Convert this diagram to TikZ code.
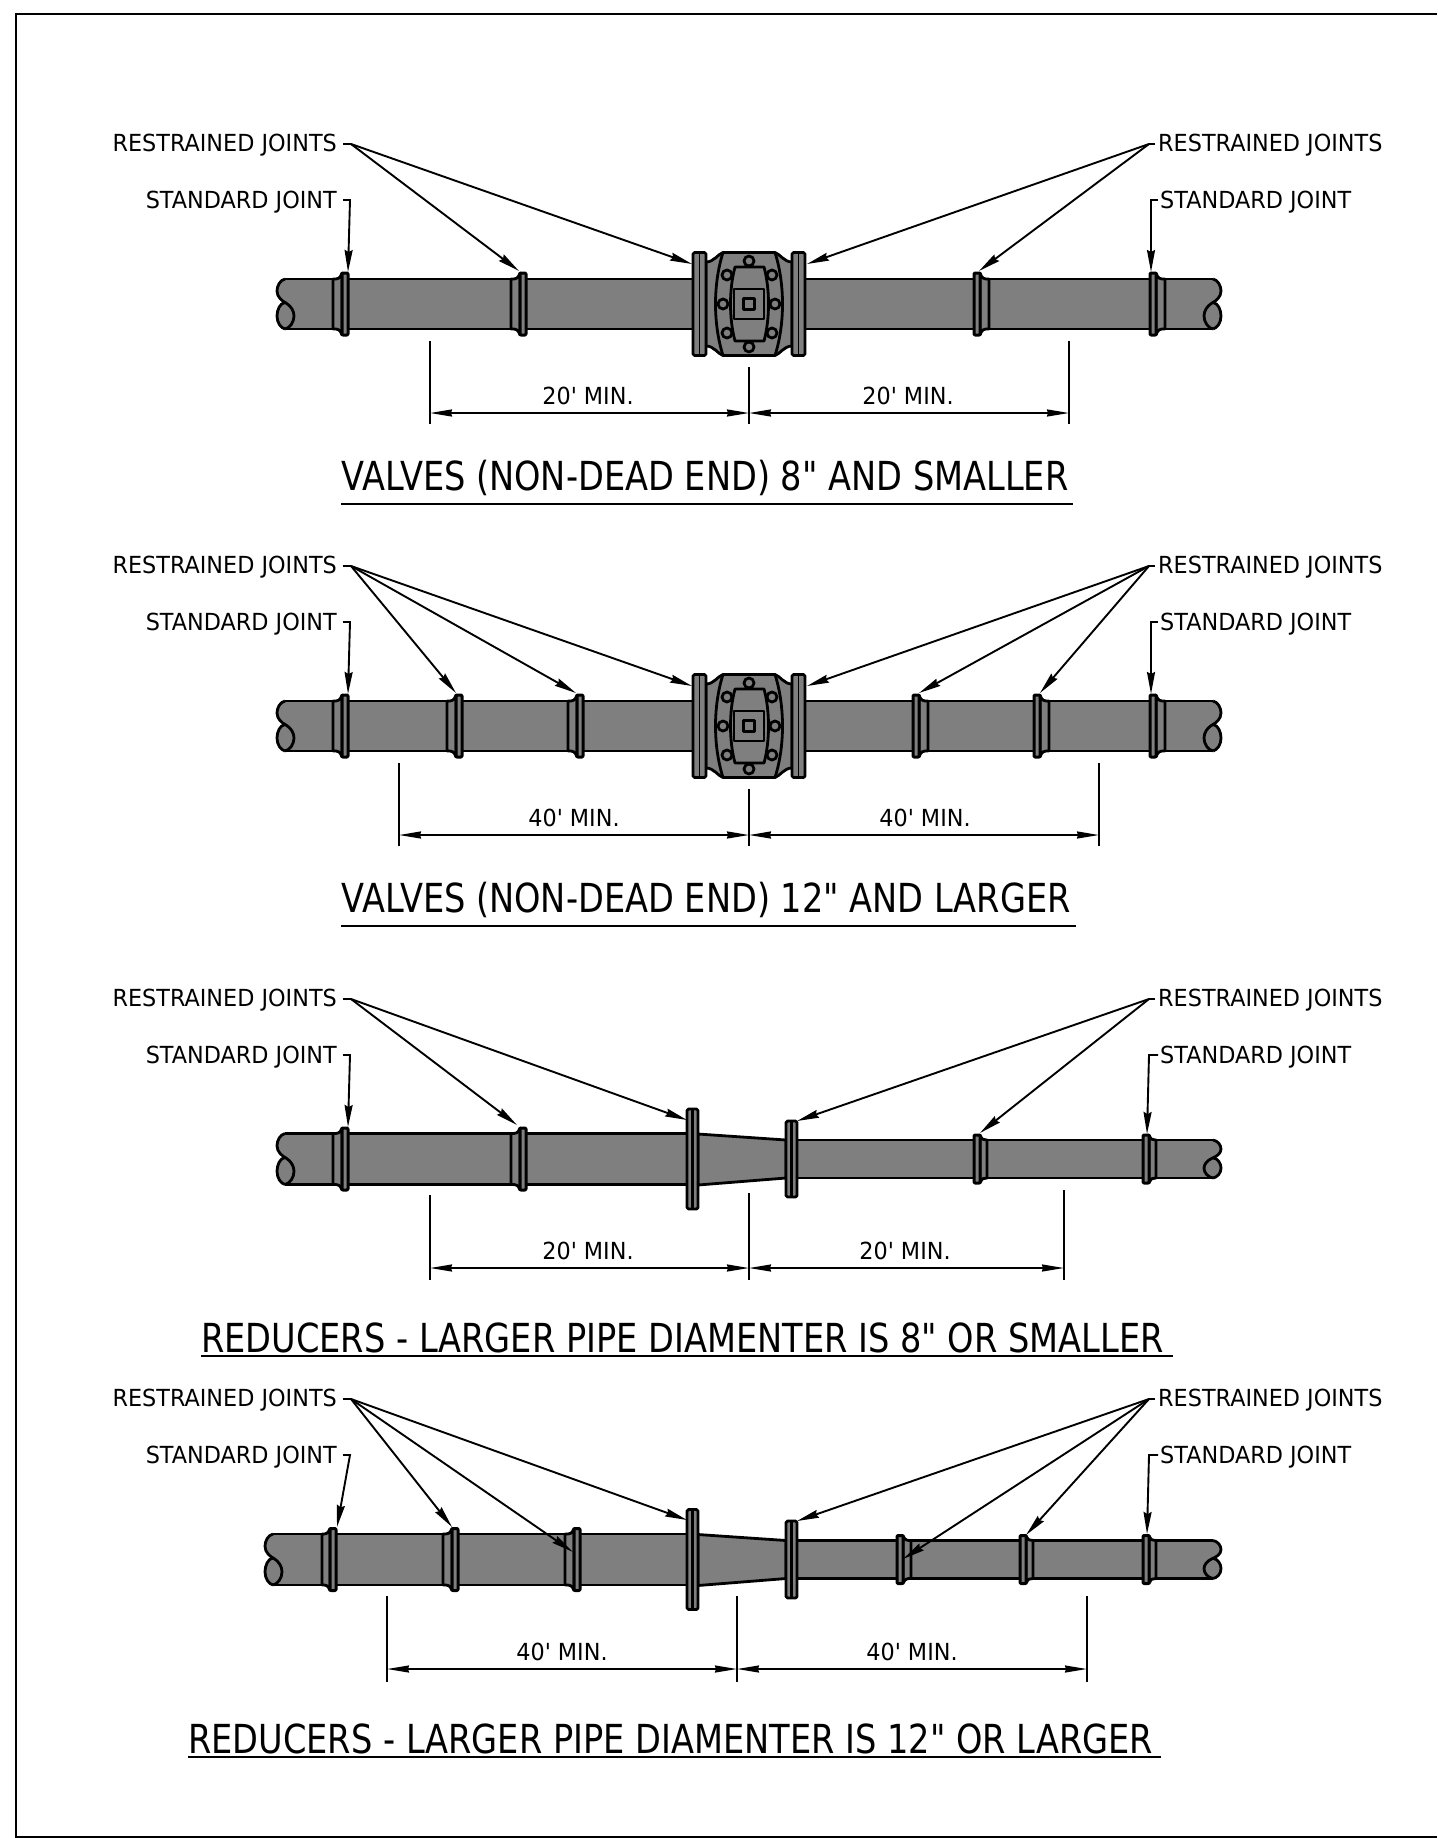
\documentclass[tikz,border=0pt]{standalone}
\usepackage{fontspec}
\usetikzlibrary{arrows.meta}
\newfontfamily\labelfam[FakeStretch=0.95]{DejaVu Sans}
\newfontfamily\titlefam[FakeStretch=0.84]{DejaVu Sans}
\newcommand{\labelfont}{\labelfam\fontsize{23.5}{25}\selectfont}
\newcommand{\titlefont}{\titlefam\fontsize{40}{42}\selectfont}
\definecolor{pipegray}{RGB}{127,127,127}
\tikzset{
  heavy/.style={black,line width=2.8pt,line join=round},
  lbl/.style={font=\labelfont,inner sep=0pt},
  ttl/.style={font=\titlefont,inner sep=0pt,anchor=west},
  leader/.style={black,line width=1.9pt,-{Stealth[length=22pt,width=8pt,inset=2pt]}},
  tick/.style={black,line width=1.9pt},
  dimline/.style={black,line width=1.7pt,{Stealth[length=22pt,width=7pt,inset=1pt]}-{Stealth[length=22pt,width=7pt,inset=1pt]}},
  extline/.style={black,line width=1.7pt},
  pics/pipebar/.style 2 args={code={
    \fill [pipegray] (0,-#2) rectangle (#1,#2);
    \draw [heavy] (0,-#2) -- (#1,-#2);
    \draw [heavy] (0,#2) -- (#1,#2);
  }},
  pics/breakend/.style={code={
    \fill [pipegray] (0,-25) .. controls (-5,-24) and (-8,-18) .. (-8,-13) .. controls (-8,-7) and (-4,-3) .. (0,-1.5) .. controls (-5,-1) and (-8,6) .. (-8,12) .. controls (-8,19) and (-4,24) .. (0,25) -- cycle;
    \draw [heavy] (0,-25) .. controls (-5,-24) and (-8,-18) .. (-8,-13) .. controls (-8,-7) and (-3,-3) .. (1,-1) .. controls (6,2) and (9,7) .. (9,12) .. controls (9,18) and (5,24) .. (0,25);
    \draw [heavy] (0,-1.5) .. controls (-5,-1) and (-8,6) .. (-8,12) .. controls (-8,19) and (-4,24) .. (0,25);
  }},
  pics/bell/.style n args={3}{code={
    \filldraw [heavy,fill=pipegray] (-#3,-#1) .. controls (-7,-#1) and (-5,-#1) .. (-3,-#2) -- (-3,#2) .. controls (-5,#1) and (-7,#1) .. (-#3,#1) -- cycle;
    \filldraw [heavy,line width=3pt,fill=pipegray,rounded corners=1pt] (-3,-#2) rectangle (3,#2);
  }},
  pics/blockflange/.style={code={
    \filldraw [heavy,fill=pipegray,rounded corners=1.5pt] (-5.5,-#1) rectangle (5.5,#1);
    \draw [black,line width=2.4pt] (0,-#1) -- (0,#1);
  }},
  pics/valve/.style={code={
    \filldraw [heavy,fill=pipegray] (-43,-42) .. controls (-35,-42) and (-31,-50) .. (-26,-51.5) -- (26,-51.5) .. controls (31,-50) and (35,-42) .. (43,-42) -- (43,42) .. controls (35,42) and (31,50) .. (26,51.5) -- (-26,51.5) .. controls (-31,50) and (-35,42) .. (-43,42) -- cycle;
    \draw [heavy] (-26,-51.5) .. controls (-36,-20) and (-36,20) .. (-26,51.5);
    \draw [heavy] (26,-51.5) .. controls (36,-20) and (36,20) .. (26,51.5);
    \draw [heavy,fill=pipegray] (0,-43) circle (5);
    \draw [heavy,fill=pipegray] (0,43) circle (5);
    \draw [heavy,fill=pipegray] (-26,0) circle (5);
    \draw [heavy,fill=pipegray] (26,0) circle (5);
    \draw [heavy,fill=pipegray] (-22,-29) circle (5);
    \draw [heavy,fill=pipegray] (23,-29) circle (5);
    \draw [heavy,fill=pipegray] (-22,29) circle (5);
    \draw [heavy,fill=pipegray] (23,29) circle (5);
    \draw [heavy] (-14,-37) -- (15,-37) .. controls (21,-15) and (21,15) .. (15,37) -- (-14,37) .. controls (-20,15) and (-20,-15) .. (-14,-37) -- cycle;
    \draw [heavy] (-15,-15) rectangle (15,15);
    \draw [heavy] (-5.5,-5.5) rectangle (5.5,5.5);
    \filldraw [heavy,fill=pipegray,rounded corners=1.5pt] (-56,-51.5) rectangle (-43,51.5);
    \draw [black,line width=1.6pt] (-49.5,-51.5) -- (-49.5,51.5);
    \filldraw [heavy,fill=pipegray,rounded corners=1.5pt] (43,-51.5) rectangle (56,51.5);
    \draw [black,line width=1.6pt] (49.5,-51.5) -- (49.5,51.5);
  }}
}
\begin{document}
\begin{tikzpicture}[x=1pt,y=-1pt]
\useasboundingbox (0,0) rectangle (1437,1838);
\draw [black,line width=2.4pt] (1437,14) -- (16,14) -- (16,1837) -- (1437,1837);
% first row
\pic at (285,304) {pipebar={928}{25}};
\pic at (285,304) {breakend};
\pic [xscale=-1] at (1213,304) {breakend};
\pic at (345,304) {bell={25}{31}{12}};
\pic at (523,304) {bell={25}{31}{12}};
\pic [xscale=-1] at (977,304) {bell={25}{31}{12}};
\pic [xscale=-1] at (1153,304) {bell={25}{31}{12}};
\pic at (749,304) {valve};
\node [lbl,anchor=east] (rjlefta) at (337,145) {RESTRAINED JOINTS};
\node [lbl,anchor=west] (rjrighta) at (1158,145) {RESTRAINED JOINTS};
\node [lbl,anchor=east] (sjlefta) at (337,202) {STANDARD JOINT};
\node [lbl,anchor=west] (sjrighta) at (1160,202) {STANDARD JOINT};
\coordinate (forklefta) at (351,144);
\coordinate (forkrighta) at (1149,144);
\coordinate (hooklefta) at (350,200);
\coordinate (hookrighta) at (1151,200);
\coordinate (tipa1) at (348,272);
\coordinate (tipa2) at (519,271);
\coordinate (tipa3) at (692,264);
\coordinate (tipa4) at (807,264);
\coordinate (tipa5) at (979,271);
\coordinate (tipa6) at (1151,272);
\draw [tick] ([xshift=6pt,yshift=1pt]rjlefta.east) -- (forklefta);
\draw [tick] ([xshift=-3pt,yshift=1pt]rjrighta.west) -- (forkrighta);
\draw [leader] (forklefta) -- (tipa2);
\draw [leader] (forklefta) -- (tipa3);
\draw [leader] (forkrighta) -- (tipa4);
\draw [leader] (forkrighta) -- (tipa5);
\draw [leader] ([xshift=6pt,yshift=2pt]sjlefta.east) -- (hooklefta) -- (tipa1);
\draw [leader] ([xshift=-2pt,yshift=2pt]sjrighta.west) -- (hookrighta) -- (tipa6);
\coordinate (dima1) at (430,413);
\coordinate (dima2) at (749,413);
\coordinate (dima3) at (1069,413);
\draw [dimline] (dima1) -- (dima2);
\draw [dimline] (dima2) -- (dima3);
\draw [extline] (430,341) -- (430,424);
\draw [extline] (749,367) -- (749,424);
\draw [extline] (1069,341) -- (1069,424);
\node [lbl] (dimtxta1) at (588,396) {20' MIN.};
\node [lbl] (dimtxta2) at (908,396) {20' MIN.};
\node [ttl] (ttla) at (341,478) {VALVES (NON-DEAD END) 8" AND SMALLER};
\draw [tick] (341,504) -- (1073,504);
% second row
\pic at (285,726) {pipebar={928}{25}};
\pic at (285,726) {breakend};
\pic [xscale=-1] at (1213,726) {breakend};
\pic at (345,726) {bell={25}{31}{12}};
\pic at (459,726) {bell={25}{31}{12}};
\pic at (580,726) {bell={25}{31}{12}};
\pic [xscale=-1] at (916,726) {bell={25}{31}{12}};
\pic [xscale=-1] at (1037,726) {bell={25}{31}{12}};
\pic [xscale=-1] at (1153,726) {bell={25}{31}{12}};
\pic at (749,726) {valve};
\node [lbl,anchor=east] (rjleftb) at (337,567) {RESTRAINED JOINTS};
\node [lbl,anchor=west] (rjrightb) at (1158,567) {RESTRAINED JOINTS};
\node [lbl,anchor=east] (sjleftb) at (337,624) {STANDARD JOINT};
\node [lbl,anchor=west] (sjrightb) at (1160,624) {STANDARD JOINT};
\coordinate (forkleftb) at (351,566);
\coordinate (forkrightb) at (1149,566);
\coordinate (hookleftb) at (350,622);
\coordinate (hookrightb) at (1151,622);
\coordinate (tipb1) at (348,694);
\coordinate (tipb2) at (456,693);
\coordinate (tipb3) at (576,693);
\coordinate (tipb4) at (692,686);
\coordinate (tipb5) at (807,686);
\coordinate (tipb6) at (919,693);
\coordinate (tipb7) at (1040,693);
\coordinate (tipb8) at (1151,694);
\draw [tick] ([xshift=6pt,yshift=1pt]rjleftb.east) -- (forkleftb);
\draw [tick] ([xshift=-3pt,yshift=1pt]rjrightb.west) -- (forkrightb);
\draw [leader] (forkleftb) -- (tipb2);
\draw [leader] (forkleftb) -- (tipb3);
\draw [leader] (forkleftb) -- (tipb4);
\draw [leader] (forkrightb) -- (tipb5);
\draw [leader] (forkrightb) -- (tipb6);
\draw [leader] (forkrightb) -- (tipb7);
\draw [leader] ([xshift=6pt,yshift=2pt]sjleftb.east) -- (hookleftb) -- (tipb1);
\draw [leader] ([xshift=-2pt,yshift=2pt]sjrightb.west) -- (hookrightb) -- (tipb8);
\coordinate (dimb1) at (399,835);
\coordinate (dimb2) at (749,835);
\coordinate (dimb3) at (1099,835);
\draw [dimline] (dimb1) -- (dimb2);
\draw [dimline] (dimb2) -- (dimb3);
\draw [extline] (399,763) -- (399,846);
\draw [extline] (749,789) -- (749,846);
\draw [extline] (1099,763) -- (1099,846);
\node [lbl] (dimtxtb1) at (574,818) {40' MIN.};
\node [lbl] (dimtxtb2) at (925,818) {40' MIN.};
\node [ttl] (ttlb) at (341,900) {VALVES (NON-DEAD END) 12" AND LARGER};
\draw [tick] (341,926) -- (1076,926);
% third row
\pic at (285,1159) {pipebar={402}{25.5}};
\pic [yscale=1.02] at (285,1159) {breakend};
\pic at (797,1159) {pipebar={416}{19}};
\pic [xscale=-1,yscale=0.76] at (1213,1159) {breakend};
\filldraw [heavy,fill=pipegray] (698,1134) -- (786,1140) -- (786,1178) -- (698,1185) -- cycle;
\pic at (345,1159) {bell={25.5}{31}{12}};
\pic at (523,1159) {bell={25.5}{31}{12}};
\pic [xscale=-1] at (977,1159) {bell={19}{24}{10}};
\pic [xscale=-1] at (1146,1159) {bell={19}{24}{10}};
\pic at (692.5,1159) {blockflange=50};
\pic at (791.5,1159) {blockflange=38};
\node [lbl,anchor=east] (rjleftc) at (337,1000) {RESTRAINED JOINTS};
\node [lbl,anchor=west] (rjrightc) at (1158,1000) {RESTRAINED JOINTS};
\node [lbl,anchor=east] (sjleftc) at (337,1057) {STANDARD JOINT};
\node [lbl,anchor=west] (sjrightc) at (1160,1057) {STANDARD JOINT};
\coordinate (forkleftc) at (351,999);
\coordinate (forkrightc) at (1149,999);
\coordinate (hookleftc) at (350,1055);
\coordinate (hookrightc) at (1149,1055);
\coordinate (tipc1) at (348,1127);
\coordinate (tipc2) at (517,1125);
\coordinate (tipc3) at (687,1120);
\coordinate (tipc4) at (797,1121);
\coordinate (tipc5) at (980,1133);
\coordinate (tipc6) at (1147,1134);
\draw [tick] ([xshift=6pt,yshift=1pt]rjleftc.east) -- (forkleftc);
\draw [tick] ([xshift=-3pt,yshift=1pt]rjrightc.west) -- (forkrightc);
\draw [leader] (forkleftc) -- (tipc2);
\draw [leader] (forkleftc) -- (tipc3);
\draw [leader] (forkrightc) -- (tipc4);
\draw [leader] (forkrightc) -- (tipc5);
\draw [leader] ([xshift=6pt,yshift=2pt]sjleftc.east) -- (hookleftc) -- (tipc1);
\draw [leader] ([xshift=-2pt,yshift=2pt]sjrightc.west) -- (hookrightc) -- (tipc6);
\coordinate (dimc1) at (430,1268);
\coordinate (dimc2) at (749,1268);
\coordinate (dimc3) at (1064,1268);
\draw [dimline] (dimc1) -- (dimc2);
\draw [dimline] (dimc2) -- (dimc3);
\draw [extline] (430,1195) -- (430,1280);
\draw [extline] (749,1193) -- (749,1280);
\draw [extline] (1064,1190) -- (1064,1280);
\node [lbl] (dimtxtc1) at (588,1251) {20' MIN.};
\node [lbl] (dimtxtc2) at (905,1251) {20' MIN.};
\node [ttl] (ttlc) at (201,1338) {REDUCERS - LARGER PIPE DIAMENTER IS 8" OR SMALLER};
\draw [tick] (201,1356) -- (1173,1356);
% fourth row
\pic at (273,1559.5) {pipebar={414}{25.5}};
\pic [yscale=1.02] at (273,1559.5) {breakend};
\pic at (797,1559.5) {pipebar={416}{19}};
\pic [xscale=-1,yscale=0.76] at (1213,1559.5) {breakend};
\filldraw [heavy,fill=pipegray] (698,1534.5) -- (786,1540.5) -- (786,1578.5) -- (698,1585.5) -- cycle;
\pic at (333,1559.5) {bell={25.5}{31}{11}};
\pic at (455,1559.5) {bell={25.5}{31}{12}};
\pic at (577,1559.5) {bell={25.5}{31}{12}};
\pic [xscale=-1] at (900,1559.5) {bell={19}{24}{11}};
\pic [xscale=-1] at (1023,1559.5) {bell={19}{24}{10}};
\pic [xscale=-1] at (1146,1559.5) {bell={19}{24}{10}};
\pic at (692.5,1559.5) {blockflange=50};
\pic at (791.5,1559.5) {blockflange=38.5};
\node [lbl,anchor=east] (rjleftd) at (337,1400) {RESTRAINED JOINTS};
\node [lbl,anchor=west] (rjrightd) at (1158,1400) {RESTRAINED JOINTS};
\node [lbl,anchor=east] (sjleftd) at (337,1457) {STANDARD JOINT};
\node [lbl,anchor=west] (sjrightd) at (1160,1457) {STANDARD JOINT};
\coordinate (forkleftd) at (351,1399);
\coordinate (forkrightd) at (1149,1399);
\coordinate (hookleftd) at (350,1455);
\coordinate (hookrightd) at (1149,1455);
\coordinate (tipd1) at (337,1527);
\coordinate (tipd2) at (452,1527);
\coordinate (tipd3) at (573,1552);
\coordinate (tipd4) at (687,1520);
\coordinate (tipd5) at (797,1521);
\coordinate (tipd6) at (903,1559);
\coordinate (tipd7) at (1026,1535);
\coordinate (tipd8) at (1147,1534);
\draw [tick] ([xshift=6pt,yshift=1pt]rjleftd.east) -- (forkleftd);
\draw [tick] ([xshift=-3pt,yshift=1pt]rjrightd.west) -- (forkrightd);
\draw [leader] (forkleftd) -- (tipd2);
\draw [leader] (forkleftd) -- (tipd3);
\draw [leader] (forkleftd) -- (tipd4);
\draw [leader] (forkrightd) -- (tipd5);
\draw [leader] (forkrightd) -- (tipd6);
\draw [leader] (forkrightd) -- (tipd7);
\draw [leader] ([xshift=6pt,yshift=2pt]sjleftd.east) -- (hookleftd) -- (tipd1);
\draw [leader] ([xshift=-2pt,yshift=2pt]sjrightd.west) -- (hookrightd) -- (tipd8);
\coordinate (dimd1) at (387,1669);
\coordinate (dimd2) at (737,1669);
\coordinate (dimd3) at (1087,1669);
\draw [dimline] (dimd1) -- (dimd2);
\draw [dimline] (dimd2) -- (dimd3);
\draw [extline] (387,1596) -- (387,1682);
\draw [extline] (737,1596) -- (737,1682);
\draw [extline] (1087,1596) -- (1087,1682);
\node [lbl] (dimtxtd1) at (562,1652) {40' MIN.};
\node [lbl] (dimtxtd2) at (912,1652) {40' MIN.};
\node [ttl] (ttld) at (188,1739) {REDUCERS - LARGER PIPE DIAMENTER IS 12" OR LARGER};
\draw [tick] (188,1757) -- (1161,1757);
\end{tikzpicture}
\end{document}
